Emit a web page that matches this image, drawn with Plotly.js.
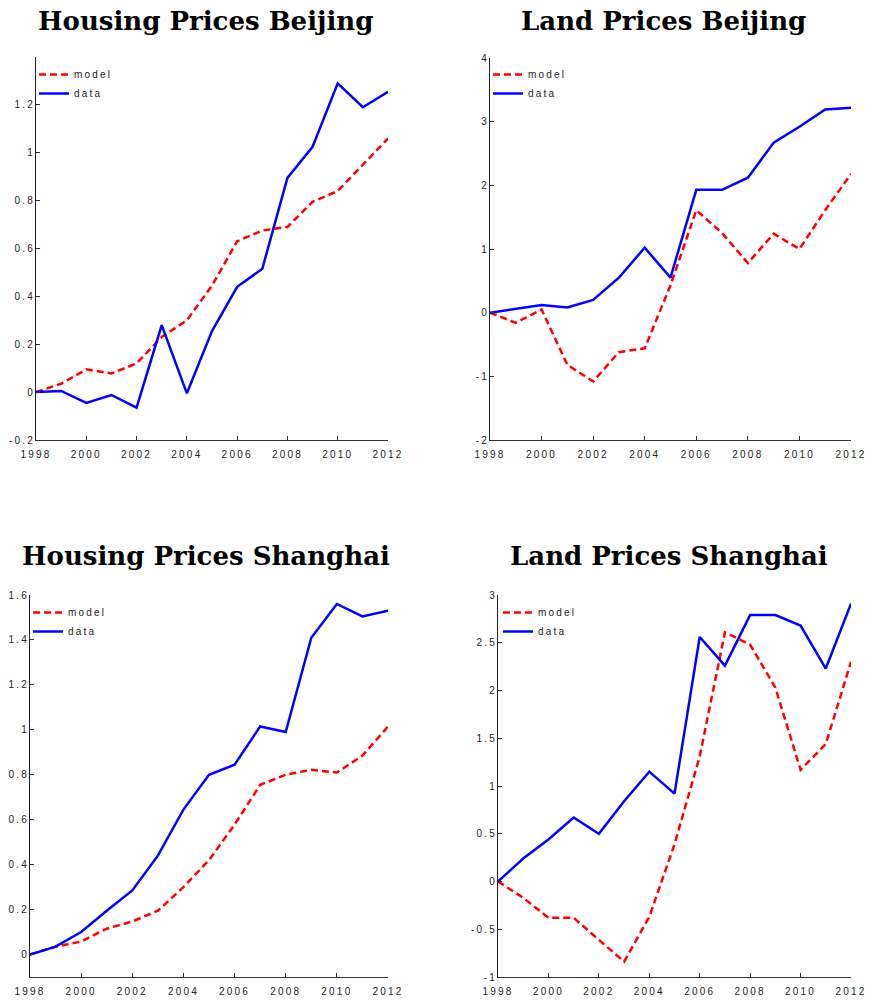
<!DOCTYPE html>
<html>
<head>
<meta charset="utf-8">
<script src="https://cdn.plot.ly/plotly-3.0.1.min.js"></script>
<style>
html,body{margin:0;padding:0;background:#fff;}
#chart{width:870px;height:1003px;}
text.legendtext,
g.legend text, g.legend2 text, g.legend3 text, g.legend4 text,
g.xtick > text, g.x2tick > text, g.x3tick > text, g.x4tick > text,
g.ytick > text, g.y2tick > text, g.y3tick > text, g.y4tick > text {
  letter-spacing: 2.2px !important;
}
</style>
</head>
<body>
<div id="chart"></div>
<script>
// ---- data ----
const years = [1998,1999,2000,2001,2002,2003,2004,2005,2006,2007,2008,2009,2010,2011,2012];

const housingBeijingModel = [0, 0.035, 0.095, 0.078, 0.12, 0.23, 0.30, 0.445, 0.63, 0.675, 0.69, 0.795, 0.84, 0.95, 1.06];
const housingBeijingData  = [0, 0.005, -0.045, -0.012, -0.065, 0.28, -0.005, 0.255, 0.44, 0.515, 0.895, 1.025, 1.29, 1.19, 1.255];

const landBeijingModel = [0, -0.16, 0.05, -0.82, -1.08, -0.62, -0.56, 0.43, 1.61, 1.25, 0.78, 1.24, 1.0, 1.61, 2.18];
const landBeijingData  = [0, 0.06, 0.12, 0.08, 0.2, 0.55, 1.02, 0.55, 1.93, 1.93, 2.12, 2.67, 2.92, 3.19, 3.22];

const housingShanghaiModel = [0, 0.035, 0.058, 0.115, 0.147, 0.195, 0.30, 0.42, 0.578, 0.755, 0.80, 0.822, 0.81, 0.885, 1.015];
const housingShanghaiData  = [0, 0.035, 0.10, 0.195, 0.285, 0.44, 0.645, 0.80, 0.845, 1.015, 0.99, 1.41, 1.56, 1.505, 1.53];

const landShanghaiModel = [0, -0.17, -0.38, -0.38, -0.61, -0.84, -0.37, 0.39, 1.31, 2.61, 2.48, 2.03, 1.17, 1.44, 2.30];
const landShanghaiData  = [0, 0.24, 0.44, 0.67, 0.50, 0.84, 1.15, 0.92, 2.56, 2.26, 2.79, 2.79, 2.68, 2.23, 2.91];

const titles = ["Housing Prices Beijing", "Land Prices Beijing", "Housing Prices Shanghai", "Land Prices Shanghai"];
const seriesNames = ["model", "data"];

const xTickVals = [1998,2000,2002,2004,2006,2008,2010,2012];
const xTickText = ["1998","2000","2002","2004","2006","2008","2010","2012"];

const y1TickVals = [-0.2,0,0.2,0.4,0.6,0.8,1,1.2];
const y1TickText = ["-0.2","0","0.2","0.4","0.6","0.8","1","1.2"];
const y2TickVals = [-2,-1,0,1,2,3,4];
const y2TickText = ["-2","-1","0","1","2","3","4"];
const y3TickVals = [0,0.2,0.4,0.6,0.8,1,1.2,1.4,1.6];
const y3TickText = ["0","0.2","0.4","0.6","0.8","1","1.2","1.4","1.6"];
const y4TickVals = [-1,-0.5,0,0.5,1,1.5,2,2.5,3];
const y4TickText = ["-1","-0.5","0","0.5","1","1.5","2","2.5","3"];

// ---- figure ----
const W = 870, H = 1003;
const px = v => v / W;
const py = v => 1 - v / H;

const red = '#ff0000', blue = '#0000ff';
const panels = [
  {m: housingBeijingModel,  d: housingBeijingData,  xa:'x',  ya:'y',  lg:'legend'},
  {m: landBeijingModel,     d: landBeijingData,     xa:'x2', ya:'y2', lg:'legend2'},
  {m: housingShanghaiModel, d: housingShanghaiData, xa:'x3', ya:'y3', lg:'legend3'},
  {m: landShanghaiModel,    d: landShanghaiData,    xa:'x4', ya:'y4', lg:'legend4'}
];

const traces = [];
panels.forEach(p => {
  traces.push({x: years, y: p.m, name: seriesNames[0], type:'scatter', mode:'lines',
    xaxis:p.xa, yaxis:p.ya, legend:p.lg,
    line:{color:red, width:2.5, dash:'7px,4px'}});
  traces.push({x: years, y: p.d, name: seriesNames[1], type:'scatter', mode:'lines',
    xaxis:p.xa, yaxis:p.ya, legend:p.lg,
    line:{color:blue, width:2.5}});
});

const tickFont = {family:'Liberation Sans, Arial, sans-serif', size:10, color:'#222'};
function xax(d0, d1, anchor){
  return {domain:[px(d0), px(d1)], anchor:anchor, range:[1998,2012],
    tickvals:xTickVals, ticktext:xTickText, ticks:'inside', ticklen:4, tickwidth:1, tickcolor:'#333',
    showline:true, linecolor:'#333', linewidth:1, showgrid:false, zeroline:false,
    tickfont:tickFont, fixedrange:true, ticklabelstandoff:5};
}
function yax(top, bottom, range, tv, tt, anchor){
  return {domain:[py(bottom), py(top)], anchor:anchor, range:range,
    tickvals:tv, ticktext:tt, ticks:'inside', ticklen:4, tickwidth:1, tickcolor:'#333',
    showline:true, linecolor:'#222', linewidth:1, showgrid:false, zeroline:false,
    tickfont:tickFont, fixedrange:true, ticklabelstandoff:-2};
}

const legFont = {family:'Liberation Sans, Arial, sans-serif', size:10, color:'#222'};
function leg(x, y){
  return {x:px(x), y:py(y), xanchor:'left', yanchor:'top', bgcolor:'rgba(0,0,0,0)',
    borderwidth:0, font:legFont, itemwidth:30, tracegroupgap:0};
}

const titleFont = {family:'DejaVu Serif, serif', size:26, color:'#000', weight:'bold'};
function ttl(text, x, y){
  return {text:'<b>'+text+'</b>', x:px(x), y:py(y), xref:'paper', yref:'paper',
    xanchor:'center', yanchor:'middle', showarrow:false, font:titleFont};
}

const layout = {
  width:W, height:H, margin:{l:0,r:0,t:0,b:0},
  paper_bgcolor:'#fff', plot_bgcolor:'#fff', showlegend:true,
  xaxis:  xax(36, 388, 'y'),
  yaxis:  yax(57, 440, [-0.2,1.4], y1TickVals, y1TickText, 'x'),
  xaxis2: xax(490, 851, 'y2'),
  yaxis2: yax(58, 440, [-2,4], y2TickVals, y2TickText, 'x2'),
  xaxis3: xax(30, 388, 'y3'),
  yaxis3: yax(595, 977, [-0.1,1.6], y3TickVals, y3TickText, 'x3'),
  xaxis4: xax(498, 851, 'y4'),
  yaxis4: yax(595, 977, [-1,3], y4TickVals, y4TickText, 'x4'),
  legend:  leg(34, 60),
  legend2: leg(488, 60),
  legend3: leg(28, 598),
  legend4: leg(498, 598),
  annotations:[
    ttl(titles[0], 205, 21),
    ttl(titles[1], 663, 21),
    ttl(titles[2], 206, 556),
    ttl(titles[3], 669, 556)
  ]
};

Plotly.newPlot('chart', traces, layout, {staticPlot:true, displayModeBar:false});
</script>
</body>
</html>
